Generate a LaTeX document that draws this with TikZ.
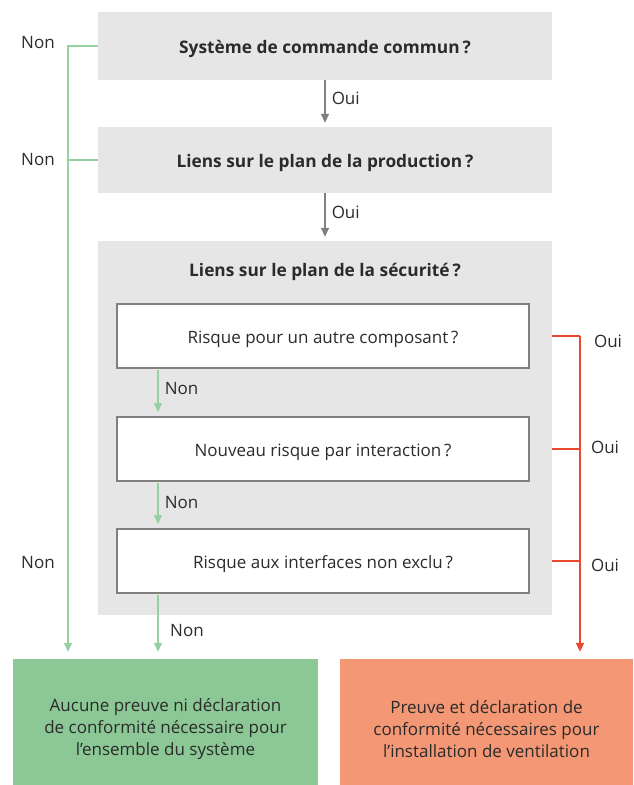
\documentclass[tikz,border=0pt]{standalone}
\usepackage{fontspec}
\setmainfont{Open Sans}
\usepackage{xcolor}
\usetikzlibrary{shapes,arrows.meta}
\definecolor{boxgray}{HTML}{E6E6E6}
\definecolor{framegray}{HTML}{808080}
\definecolor{nongreen}{HTML}{96D1A2}
\definecolor{ouired}{HTML}{E8492E}
\definecolor{okgreen}{HTML}{8CC796}
\definecolor{badorange}{HTML}{F39775}
\definecolor{txt}{HTML}{2B2B2B}
\tikzset{
  question/.style={fill=boxgray,minimum width=454pt,inner sep=0pt,text=txt,text height=16pt,text depth=2pt,font=\fontsize{17.3}{20}\selectfont\bfseries},
  check/.style={draw=framegray,line width=2pt,fill=white,minimum width=412pt,minimum height=64pt,inner sep=0pt,text=txt,text height=16pt,text depth=2pt,font=\fontsize{17}{20}\selectfont},
  result/.style={minimum height=126pt,inner sep=0pt},
  lbl/.style={inner sep=0pt,text=txt,font=\fontsize{17}{20}\selectfont},
  ouiarrow/.style={draw=framegray,line width=1.5pt,-{Triangle[length=9pt,width=8pt]}},
  nonline/.style={draw=nongreen,line width=1.5pt},
  nonarrow/.style={nonline,-{Triangle[length=9pt,width=8pt]}},
  redline/.style={draw=ouired,line width=1.5pt}
}
\begin{document}
\begin{tikzpicture}[x=1pt,y=-1pt]
\useasboundingbox (0,0) rectangle (633,785);
% questions
\node[question,minimum height=68pt] (cmd) at (325,46) {Système de commande commun\,?};
\node[question,minimum height=66pt] (prod) at (325,160) {Liens sur le plan de la production\,?};
\node[question,minimum height=374pt] (secu) at (325,428) {};
\node[lbl,font=\fontsize{17.3}{20}\selectfont\bfseries] (secutitle) at (325,272) {Liens sur le plan de la sécurité\,?};
\node[check] (risk) at (323,336) {Risque pour un autre composant\,?};
\node[check] (inter) at (323,449) {Nouveau risque par interaction\,?};
\node[check] (iface) at (323,561) {Risque aux interfaces non exclu\,?};
% results
\node[result,fill=okgreen,minimum width=305pt] (none) at (165.5,722) {};
\node[result,fill=badorange,minimum width=293pt] (proof) at (486.5,722) {};
\node[lbl,align=center,font=\fontsize{17}{22}\selectfont] (nonetext) at (165.5,729) {Aucune preuve ni déclaration\\de conformité nécessaire pour\\l’ensemble du système};
\node[lbl,align=center,font=\fontsize{17}{22}\selectfont] (prooftext) at (486.5,729) {Preuve et déclaration de\\conformité nécessaires pour\\l’installation de ventilation};
% guide coordinates
\coordinate (lx) at (68,0);
\coordinate (gx) at (158,0);
\coordinate (rx) at (580,0);
% oui arrows
\draw[ouiarrow,shorten >=4pt] (cmd.south) -- (prod.north) node[lbl,pos=0.4,right=6pt] {Oui};
\draw[ouiarrow,shorten >=4pt] (prod.south) -- (secu.north) node[lbl,pos=0.4,right=6pt] {Oui};
% non arrows
\draw[nonarrow,shorten <=1pt,shorten >=4pt] (risk.south -| gx) -- (inter.north -| gx) node[lbl,pos=0.42,right=6pt] {Non};
\draw[nonarrow,shorten <=1pt,shorten >=4pt] (inter.south -| gx) -- (iface.north -| gx) node[lbl,pos=0.45,right=6pt] {Non};
\draw[nonarrow,shorten <=1pt,shorten >=7pt] (iface.south -| gx) -- (none.north -| gx);
\node[lbl] (non4) at (187,631) {Non};
% left line
\draw[nonarrow,shorten >=7pt] (cmd.west) -| (none.north -| lx);
\draw[nonline] (prod.west) -- (prod.west -| lx);
\node[lbl] (non1) at (38,43) {Non};
\node[lbl] (non2) at (38,160) {Non};
\node[lbl] (non3) at (38,563) {Non};
% right line
\draw[redline] (secu.east |- risk.east) -- (risk.east -| rx);
\draw[redline] (secu.east |- inter.east) -- (inter.east -| rx);
\draw[redline] (secu.east |- iface.east) -- (iface.east -| rx);
\draw[redline,-{Triangle[length=9pt,width=8pt]},shorten >=7pt] (risk.east -| rx) -- (proof.north -| rx);
\node[lbl] (oui3) at (608,341) {Oui};
\node[lbl] (oui4) at (605,447) {Oui};
\node[lbl] (oui5) at (605,565) {Oui};
\end{tikzpicture}
\end{document}
